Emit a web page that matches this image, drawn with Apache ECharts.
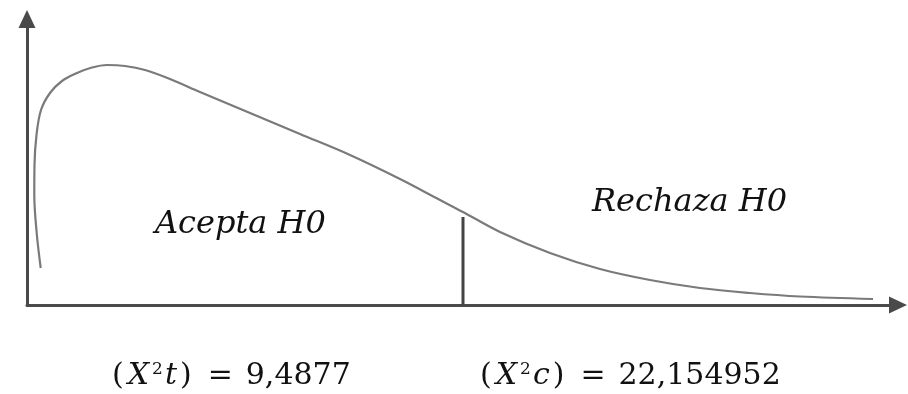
<!DOCTYPE html>
<html>
<head>
<meta charset="utf-8">
<script src="https://cdn.jsdelivr.net/npm/echarts@6/dist/echarts.min.js"></script>
<style>
html,body{margin:0;padding:0;background:#fff;}
#chart{width:908px;height:394px;}
</style>
</head>
<body>
<div id="chart"></div>
<script>
// Curve points (abstract units)
const curveX = [1.37, 0.97, 0.73, 0.75, 0.95, 1.4, 2.3, 3.5, 5.0, 6.5, 8.0, 9.8, 11.8, 14.3, 17.3, 22.3, 27.3, 32.3, 37.3, 41.3, 43.6, 47.3, 52.3, 57.3, 62.3, 67.3, 72.3, 77.3, 84.6];
const curveY = [3.7, 7.2, 11.0, 14.0, 17.0, 19.5, 21.2, 22.4, 23.2, 23.75, 24.0, 23.9, 23.5, 22.6, 21.3, 19.2, 17.1, 15.0, 12.6, 10.5, 9.3, 7.3, 5.2, 3.6, 2.5, 1.7, 1.2, 0.85, 0.6];
// Critical value marker
const criticalX = [43.6, 43.6];
const criticalY = [0, 8.8];
// Region labels
const regionLabels = ['Acepta H0', 'Rechaza H0'];
// Bottom labels
const bottomSymbols = ['t', 'c'];
const bottomValues = ['9,4877', '22,154952'];

const chart = echarts.init(document.getElementById('chart'));
const curve = curveX.map((x, i) => [x, curveY[i]]);
const crit = criticalX.map((x, i) => [x, criticalY[i]]);

const serif = '"DejaVu Serif", serif';
function bottomText(sym, val, x) {
  return {
    type: 'text',
    left: x, top: 361,
    style: {
      text: '{p|(}{x|X}{s|2}{i|' + sym + '}{p|)}{eq|=}{v|' + val + '}',
      rich: {
        p: {fontFamily: serif, fontSize: 30, fill: '#111'},
        x: {fontFamily: serif, fontStyle: 'italic', fontSize: 30, fill: '#111', padding: [0, 2, 0, 4]},
        i: {fontFamily: serif, fontStyle: 'italic', fontSize: 30, fill: '#111', padding: [0, 3, 0, 1]},
        s: {fontFamily: serif, fontSize: 17, fill: '#111', verticalAlign: 'top', padding: [0, 1, 0, 1]},
        eq: {fontFamily: serif, fontSize: 30, fill: '#111', padding: [0, 13, 0, 16]},
        v: {fontFamily: serif, fontSize: 30, fill: '#111'}
      }
    }
  };
}

chart.setOption({
  animation: false,
  grid: {left: 27, right: 10, top: 19, bottom: 89},
  xAxis: {
    type: 'value', min: 0, max: 87.1,
    axisLine: {show: true, symbol: ['none', 'triangle'], symbolSize: [17, 18], lineStyle: {color: '#4a4a4a', width: 3}},
    axisTick: {show: false}, axisLabel: {show: false}, splitLine: {show: false}
  },
  yAxis: {
    type: 'value', min: 0, max: 28.6,
    axisLine: {show: true, symbol: ['none', 'triangle'], symbolSize: [17, 18], lineStyle: {color: '#4a4a4a', width: 3}},
    axisTick: {show: false}, axisLabel: {show: false}, splitLine: {show: false}
  },
  series: [
    {
      type: 'line', data: curve, smooth: 0.35, showSymbol: false,
      lineStyle: {color: '#7a7a7a', width: 2.2}
    },
    {
      type: 'line', data: crit, showSymbol: false,
      lineStyle: {color: '#444', width: 3}
    }
  ],
  graphic: [
    {type: 'text', left: 155, top: 209, style: {text: regionLabels[0], font: 'italic 32px "DejaVu Serif", serif', fill: '#111'}},
    {type: 'text', left: 592, top: 187, style: {text: regionLabels[1], font: 'italic 32px "DejaVu Serif", serif', fill: '#111'}},
    bottomText(bottomSymbols[0], bottomValues[0], 112),
    bottomText(bottomSymbols[1], bottomValues[1], 480)
  ]
});
</script>
</body>
</html>
